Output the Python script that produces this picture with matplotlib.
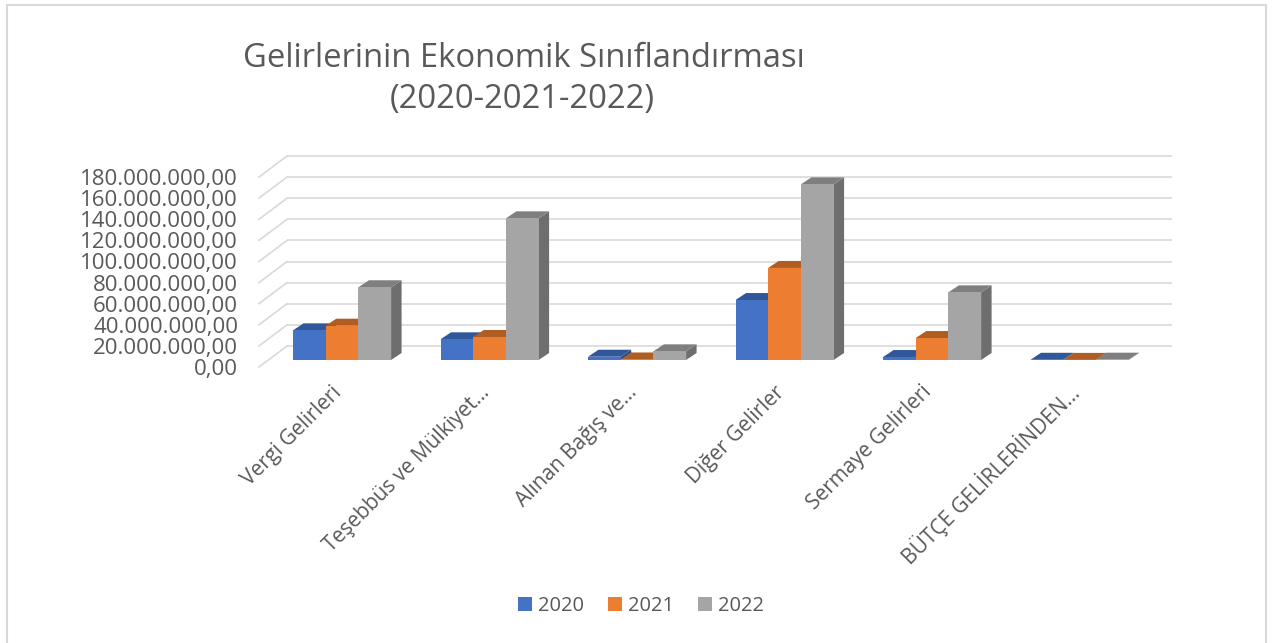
import matplotlib
matplotlib.use("Agg")
import matplotlib.pyplot as plt
from matplotlib.patches import Polygon, Patch, Rectangle
from matplotlib.transforms import offset_copy, IdentityTransform, ScaledTranslation
from matplotlib.ticker import FuncFormatter

plt.rcParams['font.family'] = ['Open Sans', 'DejaVu Sans']

categories = ['Vergi Gelirleri', 'Teşebbüs ve Mülkiyet…', 'Alınan Bağış ve…',
              'Diğer Gelirler', 'Sermaye Gelirleri', 'BÜTÇE GELİRLERİNDEN…']
years = ['2020', '2021', '2022']
v2020 = [28.1e6, 19.6e6, 3.1e6, 56.8e6, 2.8e6, 0.2e6]
v2021 = [32.5e6, 21.8e6, 0.5e6, 87.2e6, 20.8e6, 0.1e6]
v2022 = [68.9e6, 134.2e6, 8.2e6, 166.4e6, 64.1e6, 0.3e6]
series = [v2020, v2021, v2022]

front_cols = ['#4472C4', '#ED7D31', '#A5A5A5']
top_cols = ['#30579A', '#B05D22', '#7F7F7F']
side_cols = ['#2B4C87', '#A04F1B', '#6E6E6E']
grid_col = '#D9D9D9'
txt_col = '#595959'

W, H = 1277, 643
fig = plt.figure(figsize=(W / 100, H / 100), dpi=100)
# front plane of the 3d box, in pixels
left, right, bottom, top = 259, 1144, 367, 177
ax = fig.add_axes([left / W, 1 - bottom / H, (right - left) / W, (bottom - top) / H])
ax.set_xlim(-0.5, len(categories) - 0.5)
ax.set_ylim(0, 180e6)
for s in ax.spines.values():
    s.set_visible(False)

wall_dx, wall_dy = 28, 21      # depth of the whole box
bar_dx, bar_dy = 9.3, 7        # front face of bars
bd_dx, bd_dy = 10.5, 7         # bar depth

yticks = [i * 20e6 for i in range(10)]
ax.set_yticks(yticks)
ax.yaxis.set_major_formatter(FuncFormatter(
    lambda v, p: f"{v:,.2f}".replace(',', 'X').replace('.', ',').replace('X', '.')))
ax.tick_params(axis='y', length=0, pad=15, labelsize=16, labelcolor=txt_col)

x = list(range(len(categories)))
ax.set_xticks(x)
ax.set_xticklabels(categories, rotation=45, ha='right', va='center',
                   rotation_mode='anchor')
ax.tick_params(axis='x', length=0, pad=16, labelsize=15, labelcolor=txt_col)
for lab in ax.get_xticklabels():
    lab.set_transform(lab.get_transform() + ScaledTranslation(0.06, 0, fig.dpi_scale_trans))

# back wall gridlines and side diagonals
back = offset_copy(ax.transData, fig=fig, x=wall_dx, y=wall_dy, units='dots')
tr = ax.transData
for yv in yticks:
    ax.plot([-0.5, len(categories) - 0.5], [yv, yv], color=grid_col, lw=1.2,
            transform=back, zorder=1, clip_on=False, solid_capstyle='butt')
    p0 = tr.transform((-0.5, yv))
    ax.plot([p0[0], p0[0] + wall_dx], [p0[1], p0[1] + wall_dy], color=grid_col,
            lw=1.2, transform=IdentityTransform(), zorder=1, clip_on=False)

# bars
group_w = 0.665
bw = group_w / 3
z = 3
for ci in range(len(categories)):
    for si, vals in enumerate(series):
        x0 = ci - group_w / 2 + si * bw
        x1 = x0 + bw
        v = vals[ci]
        a = tr.transform((x0, 0)) + (bar_dx, bar_dy)
        b = tr.transform((x1, v)) + (bar_dx, bar_dy)
        (ax0, ay0), (bx1, by1) = a, b
        front = [(ax0, ay0), (bx1, ay0), (bx1, by1), (ax0, by1)]
        topf = [(ax0, by1), (bx1, by1), (bx1 + bd_dx, by1 + bd_dy), (ax0 + bd_dx, by1 + bd_dy)]
        side = [(bx1, ay0), (bx1 + bd_dx, ay0 + bd_dy), (bx1 + bd_dx, by1 + bd_dy), (bx1, by1)]
        for pts, col in ((side, side_cols[si]), (topf, top_cols[si]), (front, front_cols[si])):
            ax.add_patch(Polygon(pts, closed=True, facecolor=col, edgecolor='none',
                                 transform=IdentityTransform(), zorder=z, clip_on=False))
            z += 1

# title
fig.text(524 / W, 1 - 67 / H, 'Gelirlerinin Ekonomik Sınıflandırması', ha='center',
         va='baseline', fontsize=23.6, color=txt_col)
fig.text(522 / W, 1 - 108 / H, '(2020-2021-2022)', ha='center', va='baseline',
         fontsize=23.6, color=txt_col)

# legend
handles = [Patch(facecolor=c, edgecolor='none') for c in front_cols]
fig.legend(handles, years, loc='center', bbox_to_anchor=(641 / W, 1 - 606 / H), ncol=3,
           frameon=False, fontsize=14.5, labelcolor=txt_col, handlelength=0.7,
           handleheight=0.7, handletextpad=0.3, columnspacing=1.2)

# chart border
fig.patches.append(Rectangle((7 / W, -0.05), 1259 / W, 1.05 - 5 / H, transform=fig.transFigure,
                             facecolor='none', edgecolor=grid_col, lw=1.5))

fig.savefig('out.png', dpi=100)
